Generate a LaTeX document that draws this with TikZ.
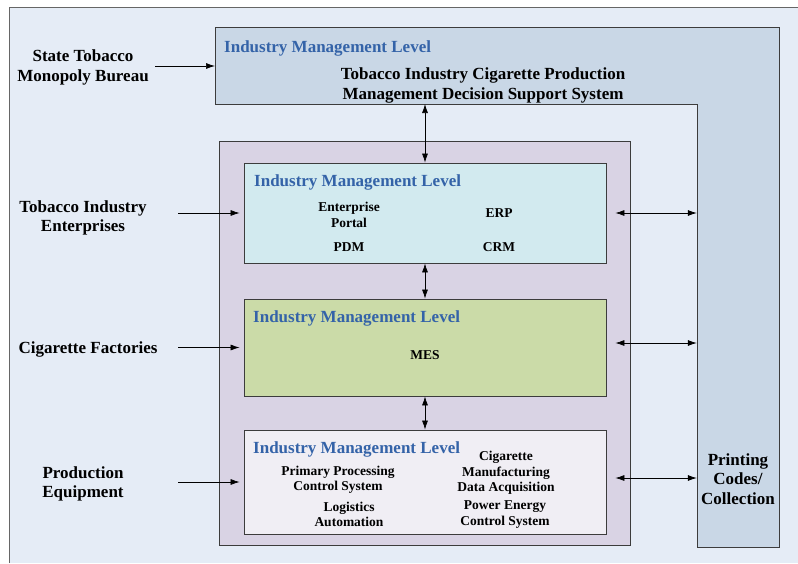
\documentclass[tikz,border=0pt]{standalone}
\usepackage{fontspec}
\setmainfont{Liberation Serif}
\usetikzlibrary{arrows.meta}
\definecolor{bgblue}{HTML}{E5ECF6}
\definecolor{dssblue}{HTML}{C9D7E6}
\definecolor{plantlilac}{HTML}{D9D3E4}
\definecolor{entcyan}{HTML}{D2EAEF}
\definecolor{mesgreen}{HTML}{CBDBA8}
\definecolor{ctlwhite}{HTML}{F0EEF4}
\definecolor{titleblue}{HTML}{3463A8}
\definecolor{framegray}{HTML}{3C3C3C}
\tikzset{
	levelbox/.style={draw=framegray, line width=0.8pt, minimum width=362pt, inner sep=0pt},
	leveltitle/.style={anchor=west, inner sep=0pt, text=titleblue, font=\bfseries\fontsize{17}{19}\selectfont},
	biglabel/.style={align=center, inner sep=0pt, font=\bfseries\fontsize{17}{19.5}\selectfont},
	smalllabel/.style={align=center, inner sep=0pt, font=\bfseries\fontsize{13.5}{15.5}\selectfont},
	arr/.style={-{Latex[length=9pt,width=6pt]}, line width=0.7pt},
	darr/.style={{Latex[length=9pt,width=6pt]}-{Latex[length=9pt,width=6pt]}, line width=0.7pt}
}
\begin{document}
\begin{tikzpicture}[x=1pt, y=-1pt]
			%%%%% START %%%%%
			\useasboundingbox (0,0) rectangle (798,563);
			
			\fill[bgblue] (9,7) rectangle (798,563);
			\draw[line width=0.8pt, color=black!60] (9,563) -- (9,7) -- (798,7);
			
			% decision support system (L shape)
			\draw[fill=dssblue, draw=framegray, line width=0.8pt] (215,27) -- (779,27) -- (779,547) -- (697,547) -- (697,104) -- (215,104) -- cycle;
			\node[leveltitle] (dsstitle) at (224,48.5) {Industry Management Level};
			\node[biglabel] (dsstext) at (483,85.5) {Tobacco Industry Cigarette Production\\Management Decision Support System};
			\coordinate (dssbot) at (425,104);
			\coordinate (dsswest) at (215,66);
			\node[minimum width=82pt, minimum height=443pt, inner sep=0pt] (codebar) at (738,325.5) {};
			\node[biglabel] (codes) at (738,479) {Printing\\Codes/\\Collection};
			
			% plant frame
			\node[draw=framegray, line width=0.8pt, fill=plantlilac, minimum width=411pt, minimum height=404pt] (plant) at (424.5,343) {};
			
			% three levels
			\node[levelbox, fill=entcyan, minimum height=100pt] (entbox) at (425,213) {};
			\node[leveltitle] (enttitle) at (254,182) {Industry Management Level};
			\node[smalllabel] (portal) at (349,215) {Enterprise\\Portal};
			\node[smalllabel] (erp) at (499,213) {ERP};
			\node[smalllabel] (pdm) at (349,247) {PDM};
			\node[smalllabel] (crm) at (499,247) {CRM};
			
			\node[levelbox, fill=mesgreen, minimum height=97pt] (mesbox) at (425,347.5) {};
			\node[leveltitle] (mestitle) at (253,318) {Industry Management Level};
			\node[smalllabel] (mes) at (425,355) {MES};
			
			\node[levelbox, fill=ctlwhite, minimum height=104pt] (ctlbox) at (425,482) {};
			\node[leveltitle] (ctltitle) at (253,449) {Industry Management Level};
			\node[smalllabel] (ppcs) at (338,480) {Primary Processing\\Control System};
			\node[smalllabel] (logist) at (349,514.5) {Logistics\\Automation};
			\node[smalllabel] (cmda) at (506,473) {Cigarette\\Manufacturing\\Data Acquisition};
			\node[smalllabel] (pecs) at (505,514.5) {Power Energy\\Control System};
			
			% actors on the left
			\node[biglabel] (smb) at (83,67.5) {State Tobacco\\Monopoly Bureau};
			\node[biglabel] (tie) at (83,218) {Tobacco Industry\\Enterprises};
			\node[biglabel] (cfa) at (88,349) {Cigarette Factories};
			\node[biglabel] (peq) at (83,484) {Production\\Equipment};
			\coordinate (smbout) at (155,66);
			\coordinate (tieout) at (178,213);
			\coordinate (cfaout) at (178,347.5);
			\coordinate (peqout) at (178,482);
			
			\draw[arr] (smbout) -- (dsswest);
			\draw[arr] (tieout) -- ([xshift=-4pt]entbox.west);
			\draw[arr] (cfaout) -- ([xshift=-4pt]mesbox.west);
			\draw[arr] (peqout) -- ([xshift=-4pt]ctlbox.west);
			
			\draw[darr] (dssbot) -- (entbox.north);
			\draw[darr] (entbox.south) -- (mesbox.north);
			\draw[darr] (mesbox.south) -- (ctlbox.north);
			
			\draw[darr] ([xshift=9pt]entbox.east) -- (entbox.east -| codebar.west);
			\draw[darr] ([xshift=9pt,yshift=4.5pt]mesbox.east) -- ([yshift=4.5pt]mesbox.east -| codebar.west);
			\draw[darr] ([xshift=9pt,yshift=4pt]ctlbox.east) -- ([yshift=4pt]ctlbox.east -| codebar.west);
			
			%%%%% END %%%%%
\end{tikzpicture}
\end{document}
